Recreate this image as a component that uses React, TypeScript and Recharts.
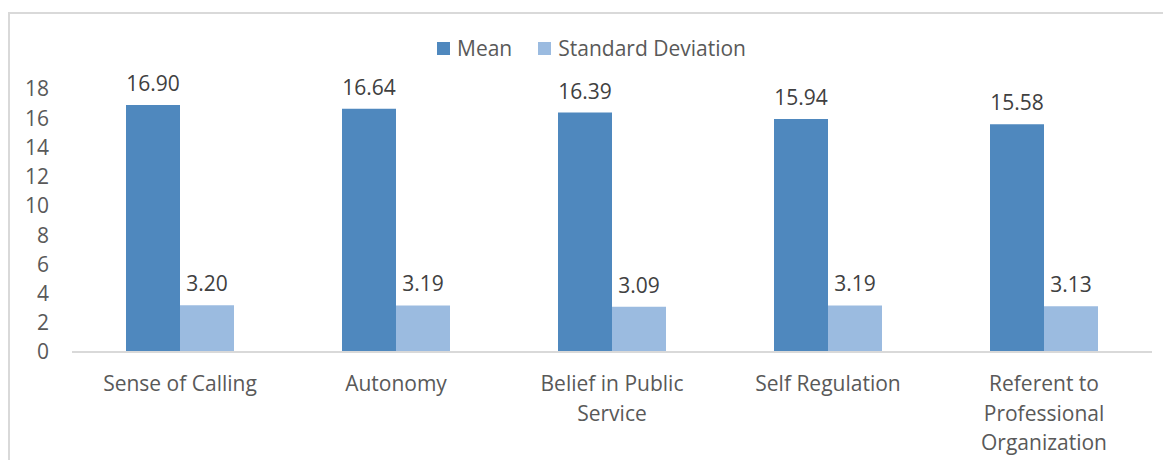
import React from 'react';
import { BarChart, Bar, XAxis, YAxis, Legend, LabelList } from 'recharts';

const categories = [
  'Sense of Calling',
  'Autonomy',
  'Belief in Public\nService',
  'Self Regulation',
  'Referent to\nProfessional\nOrganization',
];
const meanValues = [16.9, 16.64, 16.39, 15.94, 15.58];
const sdValues = [3.2, 3.19, 3.09, 3.19, 3.13];
const yTicks = [0, 2, 4, 6, 8, 10, 12, 14, 16, 18];

const MEAN_COLOR = '#4F88BE';
const SD_COLOR = '#9BBBE0';
const FONT = '"Open Sans", sans-serif';
const FS = 21;

const chartData = categories.map((name, i) => ({
  name,
  mean: meanValues[i],
  sd: sdValues[i],
}));

const CategoryTick = (props: any) => {
  const { x, y, payload } = props;
  const lines = String(payload.value).split('\n');
  return (
    <g transform={`translate(${x},${y})`}>
      {lines.map((line, i) => (
        <text
          key={i}
          x={0}
          y={23 + i * 29.5}
          textAnchor="middle"
          dominantBaseline="central"
          fill="#595959"
          fontSize={FS}
          fontFamily={FONT}
        >
          {line}
        </text>
      ))}
    </g>
  );
};

const LegendContent = (props: any) => {
  const { payload } = props;
  return (
    <div style={{ display: 'flex', justifyContent: 'center', gap: 26, fontFamily: FONT, fontSize: FS, color: '#595959', paddingLeft: 12 }}>
      {payload.map((entry: any) => (
        <div key={entry.value} style={{ display: 'flex', alignItems: 'center', gap: 7 }}>
          <div style={{ width: 13, height: 13, background: entry.color }} />
          <span>{entry.value}</span>
        </div>
      ))}
    </div>
  );
};

const App: React.FC = () => {
  return (
    <div style={{ position: 'relative', width: 1171, height: 468, margin: -8, overflow: 'hidden', background: '#fff' }}>
      <div
        style={{
          position: 'absolute',
          left: 8,
          top: 12,
          width: 1200,
          height: 500,
          borderTop: '2px solid #D9D9D9',
          borderLeft: '2px solid #D9D9D9',
        }}
      />
      <div style={{ position: 'absolute', left: 0, top: 0 }}>
        <BarChart
          width={1171}
          height={468}
          data={chartData}
          margin={{ top: 89, right: 19, bottom: 86, left: 0 }}
          barCategoryGap="25%"
          barGap={0}
        >
          <XAxis
            dataKey="name"
            height={30}
            axisLine={{ stroke: '#D9D9D9', strokeWidth: 2 }}
            tickLine={false}
            interval={0}
            tick={<CategoryTick />}
          />
          <YAxis
            width={72}
            domain={[0, 18]}
            ticks={yTicks}
            interval={0}
            axisLine={false}
            tickLine={false}
            tickSize={0}
            tickMargin={23}
            tick={{ fill: '#595959', fontSize: FS, fontFamily: FONT }}
          />
          <Legend
            verticalAlign="middle"
            align="center"
            wrapperStyle={{ top: 34, left: 0, width: 1171 }}
            content={<LegendContent />}
          />
          <Bar dataKey="mean" name="Mean" fill={MEAN_COLOR} isAnimationActive={false}>
            <LabelList
              dataKey="mean"
              position="top"
              offset={14}
              formatter={(v: any) => Number(v).toFixed(2)}
              fill="#404040"
              fontSize={FS}
              fontFamily={FONT}
            />
          </Bar>
          <Bar dataKey="sd" name="Standard Deviation" fill={SD_COLOR} isAnimationActive={false}>
            <LabelList
              dataKey="sd"
              position="top"
              offset={14}
              formatter={(v: any) => Number(v).toFixed(2)}
              fill="#404040"
              fontSize={FS}
              fontFamily={FONT}
            />
          </Bar>
        </BarChart>
      </div>
    </div>
  );
};

export default App;
